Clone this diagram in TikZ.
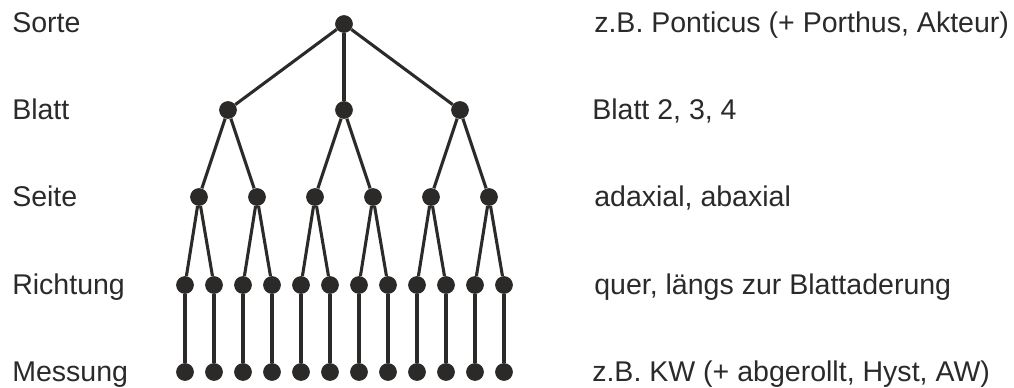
\documentclass[tikz,border=0pt]{standalone}
\usepackage{fontspec}
\setmainfont{Liberation Sans}
\definecolor{ink}{HTML}{2B2A28}
\definecolor{txt}{HTML}{2A2A2A}
\begin{document}
\begin{tikzpicture}[x=0.75pt,y=-0.75pt,
  dot/.style={circle,fill=ink,inner sep=0pt,minimum size=13.3pt},
  edge/.style={draw=ink,line width=2.3pt},
  lbl/.style={anchor=base west,inner sep=0pt,text=txt,font=\fontsize{21.4}{25}\selectfont}]
\useasboundingbox (0,0) rectangle (1014,387);
% levels
\node[dot] (r) at (344,24) {};
\foreach \i/\x in {1/228,2/344,3/460} \node[dot] (b\i) at (\x,110) {};
\foreach \i in {1,...,6} \node[dot] (s\i) at ({199+58*(\i-1)},197) {};
\foreach \i in {1,...,12} {
  \node[dot] (d\i) at ({185+29*(\i-1)},285) {};
  \node[dot] (m\i) at ({185+29*(\i-1)},372) {};
}
% edges
\foreach \i in {1,2,3} \draw[edge] (r) -- (b\i);
\foreach \i/\p in {1/1,2/1,3/2,4/2,5/3,6/3} \draw[edge] (b\p) -- (s\i);
\foreach \i/\p in {1/1,2/1,3/2,4/2,5/3,6/3,7/4,8/4,9/5,10/5,11/6,12/6} \draw[edge] (s\p) -- (d\i);
\foreach \i in {1,...,12} \draw[edge] (d\i) -- (m\i);
% labels
\node[lbl] (l1) at (12,32) {Sorte};
\node[lbl] (l2) at (12,119) {Blatt};
\node[lbl] (l3) at (12,206) {Seite};
\node[lbl] (l4) at (12,294) {Richtung};
\node[lbl] (l5) at (12,381) {Messung};
\node[lbl] (t1) at (594,32) {z.B. Ponticus (+ Porthus, Akteur)};
\node[lbl] (t2) at (592,119) {Blatt 2, 3, 4};
\node[lbl] (t3) at (594,206) {adaxial, abaxial};
\node[lbl] (t4) at (594,294) {quer, längs zur Blattaderung};
\node[lbl] (t5) at (592,381) {z.B. KW (+ abgerollt, Hyst, AW)};
\end{tikzpicture}
\end{document}
